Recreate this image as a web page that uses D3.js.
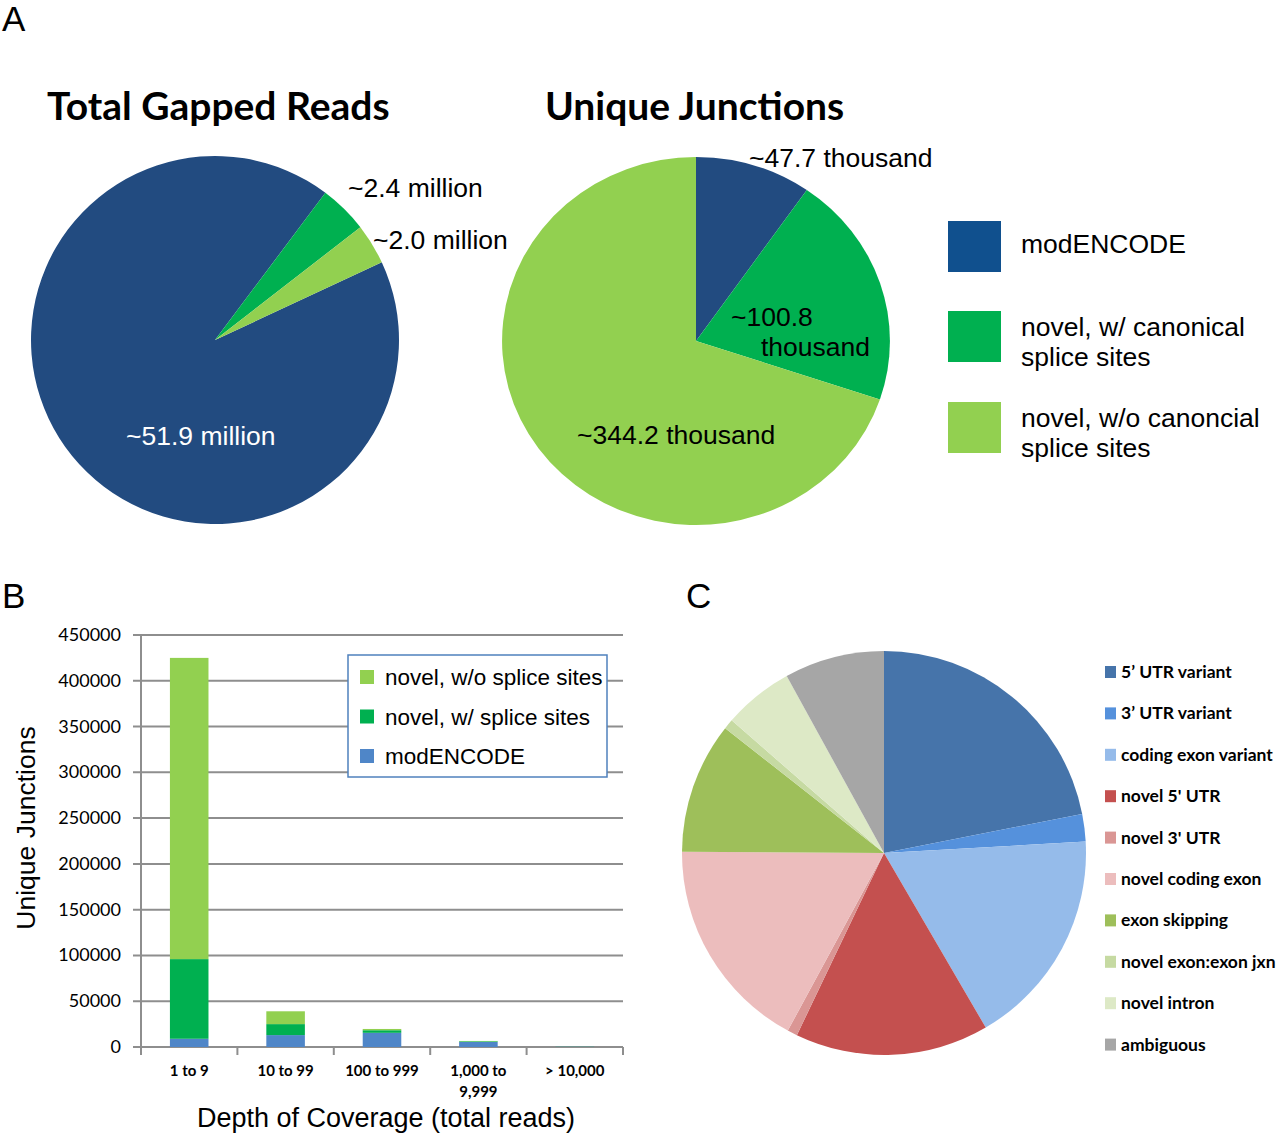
<!DOCTYPE html>
<html>
<head>
<meta charset="utf-8">
<script src="https://cdn.jsdelivr.net/npm/d3@7"></script>
<style>
  body { margin: 0; background: #fff; }
  text { fill: #000; }
</style>
</head>
<body>
<script>
// ---- panel A: two pies ----
let sourceKeys = ['modENCODE', 'canonical', 'noncanonical']
let gappedReads = [51.9, 2.4, 2.0]            // million
let uniqueJunctions = [47.7, 100.8, 344.2]    // thousand
let gappedLabels = ['~51.9 million', '~2.4 million', '~2.0 million']
let junctionLabels = [['~47.7 thousand'], ['~100.8', 'thousand'], ['~344.2 thousand']]
let legendA = [['modENCODE'], ['novel, w/ canonical', 'splice sites'], ['novel, w/o canoncial', 'splice sites']]

// ---- panel B: stacked bars ----
let depthBins = ['1 to 9', '10 to 99', '100 to 999', '1,000 to 9,999', '> 10,000']
let modencodeDepth = [9000, 13000, 15500, 5500, 300]
let canonicalDepth = [87000, 12000, 2800, 700, 100]
let noncanonicalDepth = [329000, 14000, 1400, 400, 100]
let yTicks = [0, 50000, 100000, 150000, 200000, 250000, 300000, 350000, 400000, 450000]
let legendB = ['novel, w/o splice sites', 'novel, w/ splice sites', 'modENCODE']

// ---- panel C: event types ----
let eventTypes = ['5\u2019 UTR variant', '3\u2019 UTR variant', 'coding exon variant', "novel 5' UTR", "novel 3' UTR",
  'novel coding exon', 'exon skipping', 'novel exon:exon jxn', 'novel intron', 'ambiguous']
let eventShares = [21.9, 2.2, 17.5, 15.5, 0.8, 17.2, 10.5, 0.8, 5.6, 8.0]

let pieColor = d3.scaleOrdinal().domain(sourceKeys).range(['#224b80', '#00b050', '#92d050'])
let legendColor = d3.scaleOrdinal().domain(sourceKeys).range(['#10508e', '#00b050', '#92d050'])
let barColor = d3.scaleOrdinal().domain(sourceKeys).range(['#4f86c8', '#00b050', '#92d050'])
let eventColor = d3.scaleOrdinal().domain(eventTypes).range(['#4674aa', '#5591dc', '#95bbea', '#c4504f', '#da9694',
  '#ecbdbd', '#9ebf5a', '#c6daa2', '#dde9c6', '#a6a6a6'])

let arial = 'Liberation Sans, Arial, sans-serif'
let calibri = 'Lato, Noto Sans, sans-serif'
let deg = Math.PI / 180

let svg = d3.select('body')
  .append('svg')
  .attr('width', 1280)
  .attr('height', 1133)

// panel letters
svg.selectAll('text.panel')
  .data([['A', 2, 31], ['B', 2, 608], ['C', 686, 608]])
  .enter()
  .append('text')
  .attr('class', 'panel')
  .attr('x', d => d[1])
  .attr('y', d => d[2])
  .attr('font-family', arial)
  .attr('font-size', 35)
  .text(d => d[0])

// pie titles
svg.selectAll('text.ptitle')
  .data([['Total Gapped Reads', 47], ['Unique Junctions', 545]])
  .enter()
  .append('text')
  .attr('x', d => d[1])
  .attr('y', 120)
  .attr('font-family', calibri)
  .attr('font-weight', 'bold')
  .attr('font-size', 39)
  .text(d => d[0])

// pie 1: total gapped reads
let pie1 = d3.pie().sort(null).startAngle(65 * deg).endAngle(425 * deg)
let arc1 = d3.arc().innerRadius(0).outerRadius(184)
let g1 = svg.append('g').attr('transform', 'translate(215,340)')
g1.selectAll('path')
  .data(pie1(gappedReads))
  .enter()
  .append('path')
  .attr('d', arc1)
  .attr('fill', (d, i) => pieColor(sourceKeys[i]))

let gappedLabelPos = [[126, 445], [348, 197], [373, 249]]
svg.selectAll('text.glab')
  .data(gappedLabels)
  .enter()
  .append('text')
  .attr('x', (d, i) => gappedLabelPos[i][0])
  .attr('y', (d, i) => gappedLabelPos[i][1])
  .attr('font-family', arial)
  .attr('font-size', 26.5)
  .style('fill', (d, i) => i === 0 ? '#fff' : '#000')
  .text(d => d)

// pie 2: unique junctions (slightly wider than tall, as in the figure)
let pie2 = d3.pie().sort(null)
let arc2 = d3.arc().innerRadius(0).outerRadius(184)
let g2 = svg.append('g').attr('transform', 'translate(696,341) scale(1.054,1)')
g2.selectAll('path')
  .data(pie2(uniqueJunctions))
  .enter()
  .append('path')
  .attr('d', arc2)
  .attr('fill', (d, i) => pieColor(sourceKeys[i]))

let junctionLabelPos = [[[749, 167]], [[731, 326], [761, 356]], [[577, 444]]]
junctionLabels.forEach((lines, i) => {
  svg.selectAll('text.jlab' + i)
    .data(lines)
    .enter()
    .append('text')
    .attr('x', (d, j) => junctionLabelPos[i][j][0])
    .attr('y', (d, j) => junctionLabelPos[i][j][1])
    .attr('font-family', arial)
    .attr('font-size', 26.5)
    .text(d => d)
})

// legend for A
let legA = svg.selectAll('g.lega')
  .data(legendA)
  .enter()
  .append('g')
  .attr('transform', (d, i) => 'translate(948,' + [221, 311, 402][i] + ')')
legA.append('rect')
  .attr('width', 53)
  .attr('height', 51)
  .attr('fill', (d, i) => legendColor(sourceKeys[i]))
legA.selectAll('text')
  .data(d => d)
  .enter()
  .append('text')
  .attr('x', 73)
  .attr('y', function (d, j) { return this.parentNode.__data__.length === 1 ? 32 : 25 + j * 30 })
  .attr('font-family', arial)
  .attr('font-size', 26.5)
  .text(d => d)

// ---- panel B ----
let depthRows = depthBins.map((bin, i) => ({
  bin: bin,
  modENCODE: modencodeDepth[i],
  canonical: canonicalDepth[i],
  noncanonical: noncanonicalDepth[i]
}))
let series = d3.stack().keys(sourceKeys)(depthRows)

let x = d3.scaleBand().domain(depthBins).range([141, 623]).paddingInner(0.6).paddingOuter(0.3)
let y = d3.scaleLinear().domain([0, 450000]).range([1047, 635])

svg.append('g')
  .selectAll('line')
  .data(yTicks)
  .enter()
  .append('line')
  .attr('x1', 133)
  .attr('x2', 623)
  .attr('y1', d => y(d))
  .attr('y2', d => y(d))
  .attr('stroke', '#8e8e8e')
  .attr('stroke-width', 2)

svg.selectAll('text.ytick')
  .data(yTicks)
  .enter()
  .append('text')
  .attr('x', 121)
  .attr('y', d => y(d) + 6)
  .attr('text-anchor', 'end')
  .attr('font-family', calibri)
  .attr('font-size', 18)
  .text(d => d)

svg.append('line')
  .attr('x1', 141).attr('x2', 141)
  .attr('y1', y(450000)).attr('y2', y(0))
  .attr('stroke', '#8e8e8e')
  .attr('stroke-width', 2)

let step = x.step()
svg.selectAll('line.xtick')
  .data(d3.range(depthBins.length + 1))
  .enter()
  .append('line')
  .attr('x1', i => 141 + i * step)
  .attr('x2', i => 141 + i * step)
  .attr('y1', y(0))
  .attr('y2', y(0) + 8)
  .attr('stroke', '#8e8e8e')
  .attr('stroke-width', 2)

svg.append('g')
  .selectAll('g')
  .data(series)
  .enter()
  .append('g')
  .attr('fill', d => barColor(d.key))
  .selectAll('rect')
  .data(d => d)
  .enter()
  .append('rect')
  .attr('x', d => x(d.data.bin))
  .attr('width', x.bandwidth())
  .attr('y', d => y(d[1]))
  .attr('height', d => y(d[0]) - y(d[1]))

let xlab = svg.selectAll('text.xlab')
  .data(depthBins)
  .enter()
  .append('text')
  .attr('text-anchor', 'middle')
  .attr('font-family', calibri)
  .attr('font-weight', 'bold')
  .attr('font-size', 15)
xlab.selectAll('tspan')
  .data(d => d === '1,000 to 9,999' ? ['1,000 to', '9,999'] : [d])
  .enter()
  .append('tspan')
  .attr('x', function () { return x(this.parentNode.__data__) + x.bandwidth() / 2 })
  .attr('y', (d, j) => 1076 + j * 21)
  .text(d => d)

svg.append('text')
  .attr('transform', 'translate(35,828) rotate(-90)')
  .attr('text-anchor', 'middle')
  .attr('font-family', arial)
  .attr('font-size', 26.5)
  .text('Unique Junctions')

svg.append('text')
  .attr('x', 386)
  .attr('y', 1127)
  .attr('text-anchor', 'middle')
  .attr('font-family', arial)
  .attr('font-size', 27)
  .text('Depth of Coverage (total reads)')

// legend for B
svg.append('rect')
  .attr('x', 348).attr('y', 655)
  .attr('width', 259).attr('height', 122)
  .attr('fill', '#fff')
  .attr('stroke', '#4f81bd')
  .attr('stroke-width', 1.5)
let legB = svg.selectAll('g.legb')
  .data(legendB)
  .enter()
  .append('g')
  .attr('transform', (d, i) => 'translate(360,' + (677 + i * 39.5) + ')')
legB.append('rect')
  .attr('y', -7)
  .attr('width', 14)
  .attr('height', 14)
  .attr('fill', (d, i) => barColor(sourceKeys[2 - i]))
legB.append('text')
  .attr('x', 25)
  .attr('y', 8)
  .attr('font-family', arial)
  .attr('font-size', 22.5)
  .text(d => d)

// ---- panel C ----
let pie3 = d3.pie().sort(null)
let arc3 = d3.arc().innerRadius(0).outerRadius(202)
svg.append('g')
  .attr('transform', 'translate(884,853)')
  .selectAll('path')
  .data(pie3(eventShares))
  .enter()
  .append('path')
  .attr('d', arc3)
  .attr('fill', (d, i) => eventColor(eventTypes[i]))

let legC = svg.selectAll('g.legc')
  .data(eventTypes)
  .enter()
  .append('g')
  .attr('transform', (d, i) => 'translate(1105,' + (672 + i * 41.4) + ')')
legC.append('rect')
  .attr('y', -6)
  .attr('width', 11)
  .attr('height', 12)
  .attr('fill', d => eventColor(d))
legC.append('text')
  .attr('x', 16)
  .attr('y', 6)
  .attr('font-family', calibri)
  .attr('font-weight', 'bold')
  .attr('font-size', 17.5)
  .text(d => d)
</script>
</body>
</html>
